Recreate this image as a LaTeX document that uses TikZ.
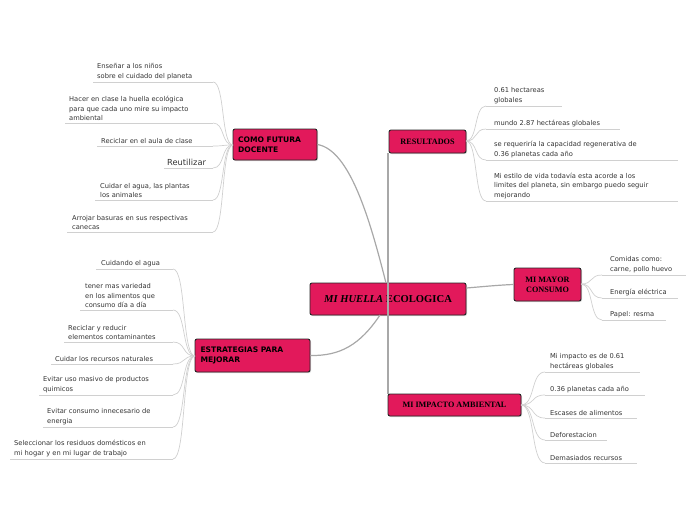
\documentclass[tikz,border=0pt]{standalone}
\usepackage{fontspec}
\setmainfont{Liberation Serif}
\setsansfont{DejaVu Sans}
\usetikzlibrary{shadows}
\definecolor{crim}{HTML}{E2195B}
\definecolor{txt}{HTML}{333333}
\definecolor{lgray}{HTML}{D0D0D0}
\definecolor{mgray}{HTML}{A8A8A8}
\tikzset{
 br/.style={draw=black!85,line width=0.9pt,fill=crim,rounded corners=2pt,inner sep=0pt,
   drop shadow={opacity=0.35,shadow xshift=1pt,shadow yshift=-1pt},text=black},
 brs/.style={br,font=\sffamily\bfseries\fontsize{7.6}{9.5}\selectfont,align=left},
 brr/.style={br,font=\rmfamily\bfseries\fontsize{8.2}{10}\selectfont,align=center},
 leaf/.style={anchor=south west,inner sep=0pt,align=left,text=txt,font=\sffamily\fontsize{6.7}{9.3}\selectfont},
 ul/.style={draw=lgray,line width=0.7pt},
 conn/.style={draw=lgray,line width=0.7pt},
 main/.style={draw=mgray,line width=1.2pt}
}
\newcommand{\lf}[8]{%
 \node[leaf] (#1) at (#3,#4-2.2) {#8};
 \coordinate (#1c) at (#7,#4);
 \draw[ul] (#5,#4) -- (#6,#4);
 \draw[conn] (#2) .. controls ($(#2)!0.6!(#2 -| #1c)$) and ($(#1c)!0.6!(#1c -| #2)$) .. (#1c);
}
\usetikzlibrary{calc}
\begin{document}
\begin{tikzpicture}[x=1pt,y=-1pt]
\useasboundingbox (0,0) rectangle (696,520);
% branch nodes
\node[br,minimum width=156,minimum height=32,font=\rmfamily\bfseries\fontsize{10.6}{12}\selectfont] (c) at (388,299) {\textit{MI HUELLA} ECOLOGICA};
\node[brs,minimum width=84,minimum height=31,text width=74] (doc) at (275,144.5) {COMO FUTURA\\DOCENTE};
\node[brr,minimum width=77,minimum height=23] (res) at (427.5,141.5) {RESULTADOS};
\node[brr,minimum width=67,minimum height=33] (may) at (547.5,284.5) {MI MAYOR\\CONSUMO};
\node[brs,minimum width=115,minimum height=33,text width=104] (est) at (252.5,355.5) {ESTRATEGIAS PARA\\MEJORAR};
\node[brr,minimum width=133,minimum height=22] (imp) at (454.5,405) {MI IMPACTO AMBIENTAL};
% main connectors
\coordinate (ctop) at (386,283);
\draw[main] (ctop) .. controls (370,220) and (350,150) .. (doc.east);
\draw[main] (res.south -| 388,0) -- (imp.north -| 388,0);
\draw[main] (c.east |- 0,288) .. controls (490,286) and (500,285) .. (may.west);
\draw[main] (380,315) .. controls (360,345) and (340,356) .. (est.east);
% anchors for leaf curves
\coordinate (ad) at (233,145);
\coordinate (ae) at (195,356);
\coordinate (ar) at (466,141);
\coordinate (am) at (581,284);
\coordinate (ai) at (521,405);
% DOCENTE leaves
\lf{d1}{ad}{97}{82}{93}{213}{213}{Enseñar a los niños\\sobre el cuidado del planeta}
\lf{d2}{ad}{69}{123}{65}{213}{213}{Hacer en clase la huella ecológica\\para que cada uno mire su impacto\\ambiental}
\lf{d3}{ad}{101}{146}{97}{213}{213}{Reciclar en el aula de clase}
\lf{d4}{ad}{167}{168}{164}{213}{213}{\fontsize{8.3}{10}\selectfont Reutilizar}
\lf{d5}{ad}{100}{200}{95}{213}{213}{Cuidar el agua, las plantas\\los animales}
\lf{d6}{ad}{72}{232}{67}{213}{213}{Arrojar basuras en sus respectivas\\canecas}
% ESTRATEGIAS leaves
\lf{e1}{ae}{101}{269}{96}{173}{173}{Cuidando el agua}
\lf{e2}{ae}{85}{310}{80}{173}{173}{tener mas variedad\\en los alimentos que\\consumo día a día}
\lf{e3}{ae}{68}{342}{64}{173}{173}{Reciclar y reducir\\elementos contaminantes}
\lf{e4}{ae}{55}{364}{51}{173}{173}{Cuidar los recursos naturales}
\lf{e5}{ae}{43}{395}{39}{173}{173}{Evitar uso masivo de productos\\quimicos}
\lf{e6}{ae}{47}{427}{43}{173}{173}{Evitar consumo innecesario de\\energia}
\lf{e7}{ae}{14}{459}{10}{173}{173}{Seleccionar los residuos domésticos en\\mi hogar y en mi lugar de trabajo}
% RESULTADOS leaves
\lf{r1}{ar}{494}{106}{486}{562}{486}{0.61 hectareas\\globales}
\lf{r2}{ar}{494}{129}{486}{620}{486}{mundo 2.87 hectáreas globales}
\lf{r3}{ar}{494}{160}{486}{678}{486}{se requeriría la capacidad regenerativa de\\0.36 planetas cada año}
\lf{r4}{ar}{494}{201}{486}{678}{486}{Mi estilo de vida todavía esta acorde a los\\limites del planeta, sin embargo puedo seguir\\mejorando}
% MAYOR leaves
\lf{m1}{am}{610}{275}{602}{686}{602}{Comidas como:\\carne, pollo huevo}
\lf{m2}{am}{610}{298}{602}{678}{602}{Energía eléctrica}
\lf{m3}{am}{610}{320}{602}{666}{602}{Papel: resma}
% IMPACTO leaves
\lf{i1}{ai}{550}{372}{545}{640}{545}{Mi impacto es de 0.61\\hectáreas globales}
\lf{i2}{ai}{550}{395}{545}{645}{545}{0.36 planetas cada año}
\lf{i3}{ai}{550}{418}{545}{637}{545}{Escases de alimentos}
\lf{i4}{ai}{550}{440}{545}{607}{545}{Deforestacion}
\lf{i5}{ai}{550}{463}{545}{637}{545}{Demasiados recursos}
\end{tikzpicture}
\end{document}
